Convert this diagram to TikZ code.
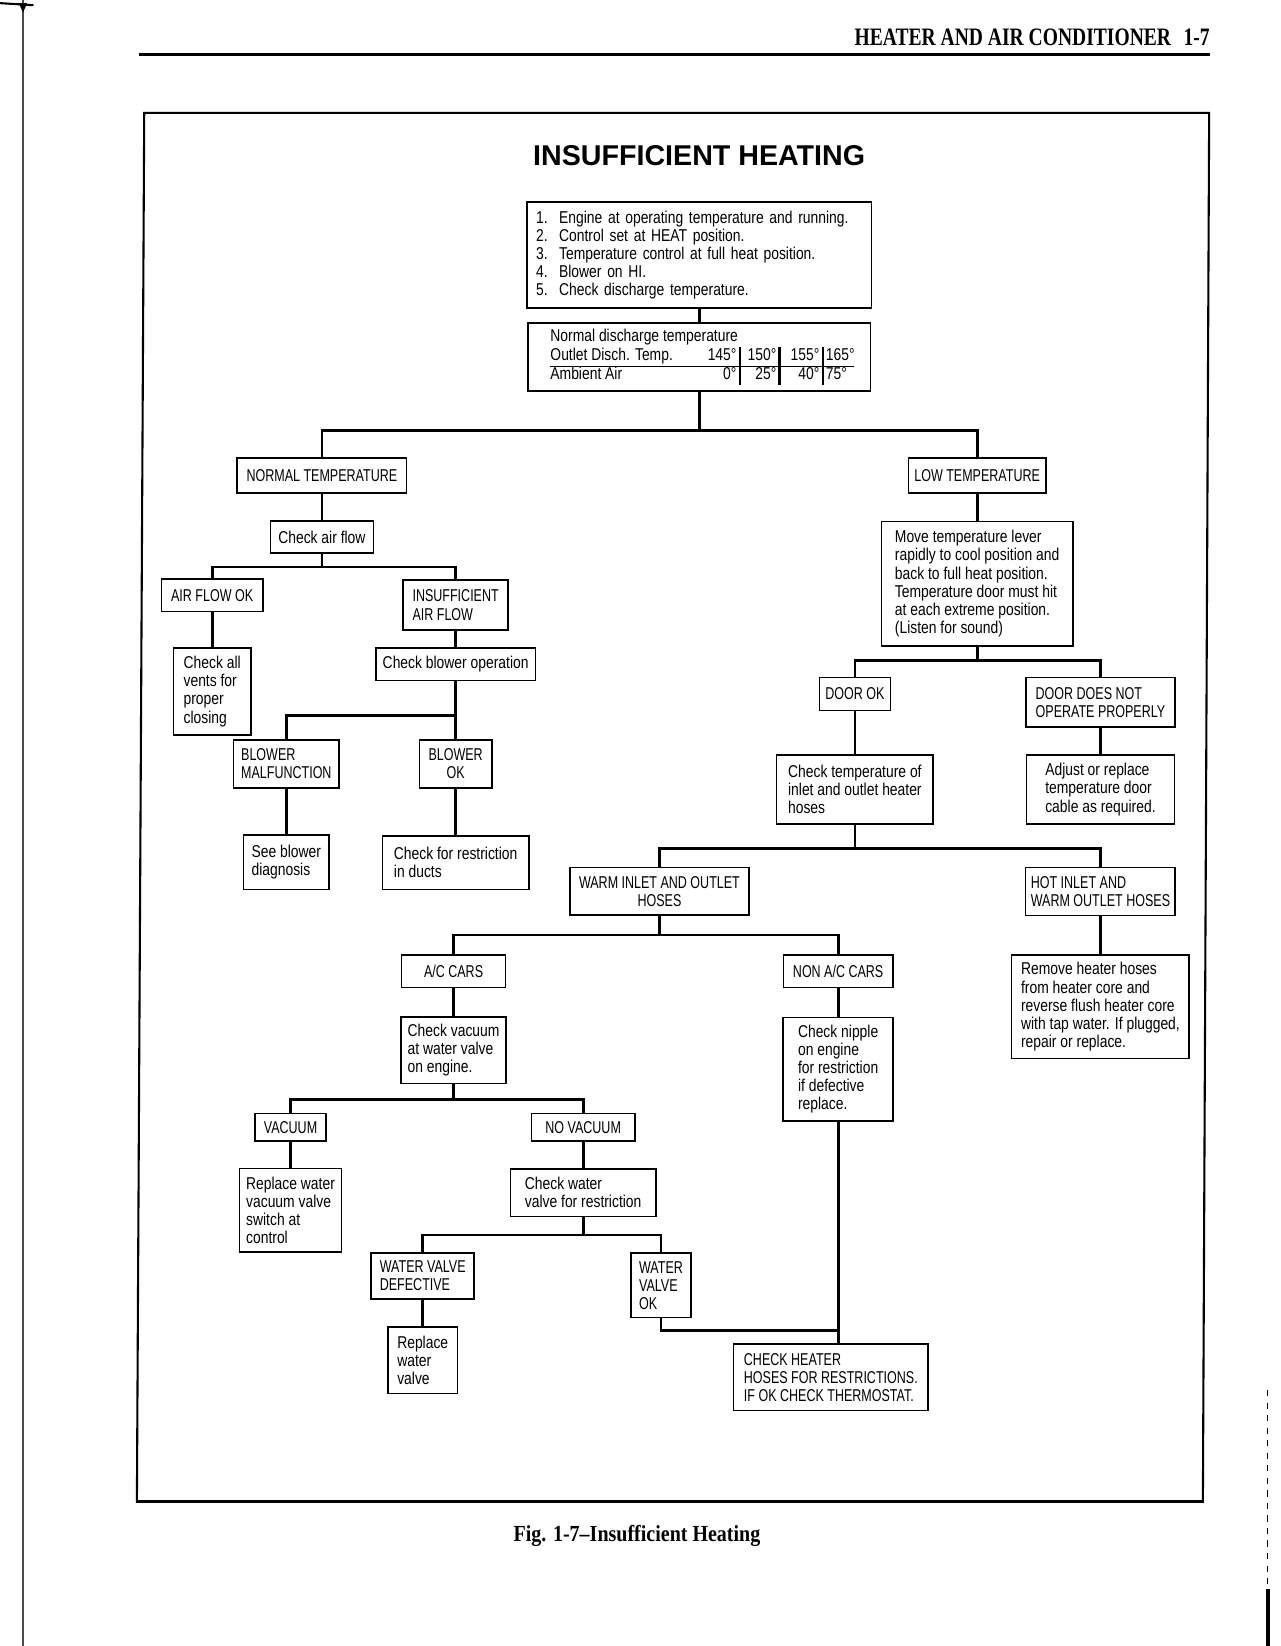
\documentclass[tikz,border=0pt]{standalone}
\usepackage{fontspec}
\usepackage{array}
\setmainfont{Liberation Sans}[FakeStretch=0.81]
\newfontfamily\capsfont{Liberation Sans}[FakeStretch=0.73]
\newfontfamily\titlefont{Liberation Sans}
\newfontfamily\headfont{Liberation Serif}[FakeStretch=0.78]
\newfontfamily\figfont{Liberation Serif}[FakeStretch=0.87]
\newcommand{\boxsize}{\fontsize{8.2}{8.7}\selectfont}
\tikzstyle{plain} = [draw, rectangle, line width=0.8pt,
    inner xsep=2.5pt, inner ysep=2pt, font=\boxsize]
\tikzstyle{box} = [plain, align=left]
\tikzstyle{capbox} = [box, font=\capsfont\boxsize]
\tikzstyle{link} = [line width=1.3pt]
\tikzset{wh/.style 2 args={minimum width=#1*0.5pt, minimum height=#2*0.5pt}}
\begin{document}
\begin{tikzpicture}[x=0.5pt, y=-0.5pt]
\useasboundingbox (0,0) rectangle (1225,1575);
\fill[white] (0,0) rectangle (1225,1575);

\draw[line width=0.5pt, black!70] (22,0) -- (22,1575);
\draw[line width=1pt] (0,3) -- (32,5);
\fill (18,3) -- (26,3) -- (22,12) -- cycle;
\draw[line width=0.6pt, dashed] (1213,1330) -- (1213,1520);
\draw[line width=2pt] (1213,1520) -- (1213,1575);

\node[anchor=base east, inner sep=0pt, font=\headfont\bfseries\fontsize{12}{14}\selectfont] (head) at (1158,44) {HEATER AND AIR CONDITIONER\hspace{6pt}1-7};
\draw[line width=1.6pt] (133,52) -- (1158,52);

\draw[line width=1pt] (138,108) -- (1157,108) -- (1151,1437) -- (131,1437) -- cycle;
\draw[line width=1.6pt] (131,1437) -- (1151,1437);

\node[anchor=base, font=\titlefont\bfseries\fontsize{13.7}{16}\selectfont] (title) at (669,158) {INSUFFICIENT HEATING};

\node[box, text width=156pt, inner xsep=4.5pt, minimum height=51pt] (steps) at (669,244) {\makebox[11pt][l]{1.}Engine at operating temperature and running.\\\makebox[11pt][l]{2.}Control set at HEAT position.\\\makebox[11pt][l]{3.}Temperature control at full heat position.\\\makebox[11pt][l]{4.}Blower on HI.\\\makebox[11pt][l]{5.}Check discharge temperature.};
\node[plain, wh={328}{65}] (disch) at (669,341.5) {\hspace{3pt}\setlength{\tabcolsep}{1pt}\begin{tabular}{@{}w{l}{62pt}w{r}{25pt}!{\vrule width 1.1pt}w{r}{16pt}!{\vrule width 1.1pt}w{r}{17.5pt}!{\vrule width 1.1pt}w{l}{13.5pt}@{}}
\multicolumn{5}{@{}l@{}}{Normal discharge temperature}\\
Outlet Disch. Temp. & 145° & 150° & 155° & 165°\\
\hline
Ambient Air & 0° & 25° & 40° & 75°
\end{tabular}};

\node[capbox, align=center, wh={162}{33.5}] (normal) at (308,455) {NORMAL TEMPERATURE};
\node[capbox, align=center, wh={131.6}{33.4}] (low) at (935,455) {LOW TEMPERATURE};
\node[box, align=center, wh={98.5}{30.5}] (airchk) at (308,514) {Check air flow};
\node[capbox, align=center, wh={97}{31}] (airok) at (203,569.5) {AIR FLOW OK};
\node[capbox, wh={100.5}{48}] (airlow) at (436,579) {INSUFFICIENT\\AIR FLOW};
\node[box, wh={74}{83}] (vents) at (203,661.5) {Check all\\vents for\\proper\\closing};
\node[box, align=center, wh={153}{31}] (blowchk) at (436,635.5) {Check blower operation};
\node[capbox, wh={101}{46}] (blowbad) at (274,731) {BLOWER\\MALFUNCTION};
\node[capbox, align=center, wh={69}{46}] (blowok) at (436,731) {BLOWER\\OK};
\node[box, wh={82}{52}] (blowdiag) at (274,825) {See blower\\diagnosis};
\node[box, wh={140}{51}] (ducts) at (436,825.5) {Check for restriction\\in ducts};

\node[box, wh={183}{119}] (lever) at (935,558.5) {Move temperature lever\\rapidly to cool position and\\back to full heat position.\\Temperature door must hit\\at each extreme position.\\(Listen for sound)};
\node[capbox, align=center, wh={68}{31.5}] (doorok) at (818,664) {DOOR OK};
\node[capbox, wh={142}{47.5}] (doorbad) at (1053,672) {DOOR DOES NOT\\OPERATE PROPERLY};
\node[box, wh={150}{66}] (hosechk) at (818,755.5) {Check temperature of\\inlet and outlet heater\\hoses};
\node[box, wh={141.6}{66}] (cable) at (1053,755.5) {Adjust or replace\\temperature door\\cable as required.};
\node[capbox, align=center, wh={171}{45.6}] (warm) at (631,853) {WARM INLET AND OUTLET\\HOSES};
\node[capbox, wh={142.4}{46}] (hot) at (1053,853) {HOT INLET AND\\WARM OUTLET HOSES};
\node[box, wh={170}{98.7}] (flush) at (1053,963.4) {Remove heater hoses\\from heater core and\\reverse flush heater core\\with tap water. If plugged,\\repair or replace.};

\node[capbox, align=center, wh={99.4}{31}] (ac) at (434,929.5) {A/C CARS};
\node[capbox, align=center, wh={104.6}{31}] (nonac) at (802,929.5) {NON A/C CARS};
\node[box, wh={100}{63.5}] (vacchk) at (434,1005) {Check vacuum\\at water valve\\on engine.};
\node[box, wh={105}{99}] (nipple) at (802,1023) {Check nipple\\on engine\\for restriction\\if defective\\replace.};
\node[capbox, align=center, wh={68.5}{26.2}] (vac) at (278,1078.5) {VACUUM};
\node[capbox, align=center, wh={99}{26.2}] (novac) at (558,1078.5) {NO VACUUM};
\node[box, wh={97.8}{79.8}] (switch) at (278,1158) {Replace water\\vacuum valve\\switch at\\control};
\node[box, wh={139}{45.3}] (valvechk) at (558,1141.3) {Check water\\valve for restriction};
\node[capbox, wh={98.5}{43.6}] (valvebad) at (404.5,1221) {WATER VALVE\\DEFECTIVE};
\node[capbox, wh={57.4}{61.6}] (valveok) at (632.5,1230) {WATER\\VALVE\\OK};
\node[box, wh={66.3}{63.8}] (valvenew) at (404.5,1301.4) {Replace\\water\\valve};
\node[capbox, wh={186}{63.5}] (heater) at (795,1318) {CHECK HEATER\\HOSES FOR RESTRICTIONS.\\IF OK CHECK THERMOSTAT.};

\draw[link] (steps) -- (disch);
\draw[link] (disch.south) -- ++(0,37) coordinate (s1);
\draw[link] (normal.north) |- (s1) -| (low.north);
\draw[link] (normal) -- (airchk);
\draw[link] (airchk.south) -- ++(0,12.5) coordinate (s2);
\draw[link] (airok.north) |- (s2) -| (airlow.north);
\draw[link] (airok) -- (vents);
\draw[link] (airlow) -- (blowchk);
\draw[link] (blowchk.south) -- ++(0,33) coordinate (s3);
\draw[link] (blowbad.north) |- (s3) -- (blowok.north);
\draw[link] (blowbad) -- (blowdiag);
\draw[link] (blowok) -- (ducts);
\draw[link] (low) -- (lever);
\draw[link] (lever.south) -- ++(0,13) coordinate (s4);
\draw[link] (doorok.north) |- (s4) -| (doorbad.north);
\draw[link] (doorok) -- (hosechk);
\draw[link] (doorbad) -- (cable);
\draw[link] (hosechk.south) -- ++(0,22.5) coordinate (s5);
\draw[link] (warm.north) |- (s5) -| (hot.north);
\draw[link] (hot) -- (flush);
\draw[link] (warm.south) -- ++(0,18) coordinate (s6);
\draw[link] (ac.north) |- (s6) -| (nonac.north);
\draw[link] (ac) -- (vacchk);
\draw[link] (nonac) -- (nipple);
\draw[link] (vacchk.south) -- ++(0,14.25) coordinate (s7);
\draw[link] (vac.north) |- (s7) -| (novac.north);
\draw[link] (vac) -- (switch);
\draw[link] (novac) -- (valvechk);
\draw[link] (valvechk.south) -- ++(0,17) coordinate (s8);
\draw[link] (valvebad.north) |- (s8) -| (valveok.north);
\draw[link] (valvebad) -- (valvenew);
\draw[link] (nipple.south) -- (nipple.south |- heater.north);
\path (nipple.south) ++(0,200) coordinate (s9);
\draw[link] (valveok.south) |- (s9);

\node[anchor=base, font=\figfont\bfseries\fontsize{11}{13}\selectfont] (fig) at (609.5,1475) {Fig. 1-7–Insufficient Heating};
\end{tikzpicture}
\end{document}
